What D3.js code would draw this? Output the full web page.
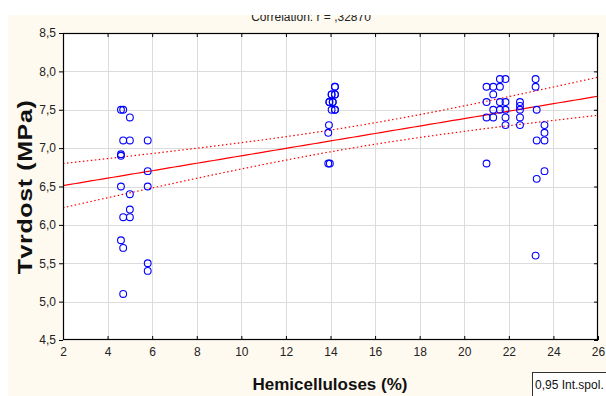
<!DOCTYPE html>
<html>
<head>
<meta charset="utf-8">
<script src="https://cdn.jsdelivr.net/npm/d3@7/dist/d3.min.js"></script>
<style>
  html, body { margin: 0; padding: 0; background: #ffffff; }
  svg { display: block; font-family: "Liberation Sans", Arial, sans-serif; }
</style>
</head>
<body>
<svg id="chart" width="606" height="396"></svg>
<script>
// Hemicellulose content (%) of each sample (repeated pairs sit on top of each other)
const hemicellulose = [
  4.6, 4.7, 5.0, 4.7, 5.0, 5.8, 4.6, 4.6, 5.8, 4.6,
  5.8, 5.0, 5.0, 4.7, 5.0, 4.6, 4.7, 5.8, 5.8, 4.7,
  14.2, 14.05, 14.2, 13.95, 14.1, 14.05, 14.2, 13.93, 13.9, 13.9, 13.97,
  14.2, 14.05, 14.2, 13.95, 14.1, 14.2,
  21.0, 21.0, 21.0, 21.0,
  21.3, 21.3, 21.3, 21.3,
  21.6, 21.6, 21.6, 21.6,
  21.85, 21.85, 21.85, 21.85, 21.85,
  22.5, 22.5, 22.5, 22.5, 22.5,
  23.2, 23.2, 23.25, 23.25, 23.25, 23.2,
  23.6, 23.6, 23.6, 23.6
];
// Measured hardness (MPa) of the same samples
const hardness = [
  7.5, 7.5, 7.4, 7.1, 7.1, 7.1, 6.9, 6.92, 6.7, 6.5,
  6.5, 6.4, 6.2, 6.1, 6.1, 5.8, 5.7, 5.5, 5.4, 5.1,
  7.8, 7.7, 7.7, 7.6, 7.6, 7.5, 7.5, 7.3, 7.2, 6.8, 6.8,
  7.8, 7.7, 7.7, 7.6, 7.6, 7.5,
  7.8, 7.6, 7.4, 6.8,
  7.8, 7.7, 7.5, 7.4,
  7.9, 7.8, 7.6, 7.5,
  7.9, 7.6, 7.5, 7.4, 7.3,
  7.6, 7.55, 7.5, 7.4, 7.3,
  7.9, 7.8, 7.5, 7.1, 6.6, 5.6,
  7.3, 7.2, 7.1, 6.7
];
const xTicks = [2, 4, 6, 8, 10, 12, 14, 16, 18, 20, 22, 24, 26];
const yTicks = [4.5, 5.0, 5.5, 6.0, 6.5, 7.0, 7.5, 8.0, 8.5];
const titleText = "Correlation: r = ,32870";
const xTitle = "Hemicelluloses (%)";
const yTitle = "Tvrdost (MPa)";
const legendText = "0,95 Int.spol.";
const tCrit = 2.0; // two-sided 95 % Student t for the sample size

const svg = d3.select("#chart");
const W = 606, H = 396;
const pLeft = 63, pRight = 598, pTop = 33, pBottom = 340;

const x = d3.scaleLinear().domain([2, 26]).range([pLeft, pRight]);
const y = d3.scaleLinear().domain([4.5, 8.5]).range([pBottom, pTop]);
const comma = v => d3.format(".1f")(v).replace(".", ",");

// page background
svg.append("rect").attr("x", 0).attr("y", 0).attr("width", W).attr("height", H).attr("fill", "#ffffff");
svg.append("rect").attr("x", 8).attr("y", 15).attr("width", W - 8).attr("height", H - 15).attr("fill", "#fffaf0");

// title, partly hidden under the top strip
svg.append("text").attr("x", 311).attr("y", 21).attr("text-anchor", "middle")
  .attr("font-size", 12).attr("fill", "#222").text(titleText);
svg.append("rect").attr("x", 0).attr("y", 0).attr("width", W).attr("height", 15).attr("fill", "#ffffff");

// plot area
svg.append("rect").attr("x", pLeft).attr("y", pTop).attr("width", pRight - pLeft).attr("height", pBottom - pTop).attr("fill", "#ffffff");

// grid
const grid = svg.append("g").attr("stroke", "#dcdcdc").attr("stroke-width", 1);
grid.selectAll(".gx").data(xTicks.slice(1, -1)).join("line")
  .attr("x1", d => Math.round(x(d)) + 0.5).attr("x2", d => Math.round(x(d)) + 0.5)
  .attr("y1", pTop).attr("y2", pBottom);
grid.selectAll(".gy").data(yTicks.slice(1, -1)).join("line")
  .attr("y1", d => Math.round(y(d)) + 0.5).attr("y2", d => Math.round(y(d)) + 0.5)
  .attr("x1", pLeft).attr("x2", pRight);

// least-squares fit with 95 % confidence band
const n = hardness.length;
const xbar = d3.mean(hemicellulose), ybar = d3.mean(hardness);
let sxx = 0, sxy = 0;
for (let i = 0; i < n; i++) {
  sxx += (hemicellulose[i] - xbar) ** 2;
  sxy += (hemicellulose[i] - xbar) * (hardness[i] - ybar);
}
const slope = sxy / sxx, intercept = ybar - slope * xbar;
let sse = 0;
for (let i = 0; i < n; i++) sse += (hardness[i] - intercept - slope * hemicellulose[i]) ** 2;
const se = Math.sqrt(sse / (n - 2));
const fitX = d3.range(2, 26.001, 0.25);
const fit = v => intercept + slope * v;
const half = v => tCrit * se * Math.sqrt(1 / n + (v - xbar) ** 2 / sxx);

svg.append("clipPath").attr("id", "plotClip").append("rect")
  .attr("x", pLeft).attr("y", pTop).attr("width", pRight - pLeft).attr("height", pBottom - pTop);
const fitG = svg.append("g").attr("clip-path", "url(#plotClip)").attr("fill", "none").attr("stroke", "#ff0000");
const lineOf = f => d3.line().x(d => x(d)).y(d => y(f(d)))(fitX);
fitG.append("path").attr("d", lineOf(fit)).attr("stroke-width", 1.2);
fitG.append("path").attr("d", lineOf(v => fit(v) + half(v))).attr("stroke-width", 1.2).attr("stroke-dasharray", "1.5,2.5");
fitG.append("path").attr("d", lineOf(v => fit(v) - half(v))).attr("stroke-width", 1.2).attr("stroke-dasharray", "1.5,2.5");

// samples
svg.append("g").selectAll("circle").data(d3.range(n)).join("circle")
  .attr("cx", i => x(hemicellulose[i])).attr("cy", i => y(hardness[i])).attr("r", 3.4)
  .attr("fill", "none").attr("stroke", "#0000ff").attr("stroke-width", 1.1);

// frame
svg.append("rect").attr("x", pLeft + 0.5).attr("y", pTop + 0.5).attr("width", pRight - pLeft - 1).attr("height", pBottom - pTop - 1)
  .attr("fill", "none").attr("stroke", "#000").attr("stroke-width", 1.2);

// axes
const yAxis = d3.axisLeft(y).tickValues(yTicks).tickFormat(comma).tickSize(4).tickPadding(3);
svg.append("g").attr("transform", `translate(${pLeft},0)`).call(yAxis);
const yAxisR = d3.axisLeft(y).tickValues(yTicks).tickFormat("").tickSize(4);
svg.append("g").attr("transform", `translate(${pRight},0)`).call(yAxisR)
  .selectAll(".tick line").attr("x2", -4);
const xAxis = d3.axisTop(x).tickValues(xTicks).tickFormat(d3.format("d")).tickSize(4);
const gx = svg.append("g").attr("transform", `translate(0,${pBottom})`).call(xAxis);
gx.selectAll(".tick text").attr("y", 16);
const xAxisT = d3.axisBottom(x).tickValues(xTicks).tickFormat("").tickSize(4);
svg.append("g").attr("transform", `translate(0,${pTop})`).call(xAxisT);
svg.selectAll(".domain").remove();
svg.selectAll(".tick line").attr("stroke", "#000");
svg.selectAll(".tick text").attr("font-size", 12).attr("fill", "#222")
  .attr("font-family", "'Liberation Sans', Arial, sans-serif");

// axis titles
svg.append("text").attr("x", 330).attr("y", 390).attr("text-anchor", "middle")
  .attr("font-size", 17).attr("font-weight", "bold").attr("fill", "#111").text(xTitle);
svg.append("text").attr("transform", "translate(32,187) rotate(-90) scale(1.25,1)").attr("text-anchor", "middle")
  .attr("font-size", 20).attr("font-weight", "bold").attr("fill", "#111")
  .attr("letter-spacing", 0.5).text(yTitle);

// legend box
svg.append("rect").attr("x", 532.5).attr("y", 372.5).attr("width", 80).attr("height", 30)
  .attr("fill", "#ffffff").attr("stroke", "#333");
svg.append("text").attr("x", 535).attr("y", 389).attr("font-size", 12).attr("fill", "#111").text(legendText);
</script>
</body>
</html>
